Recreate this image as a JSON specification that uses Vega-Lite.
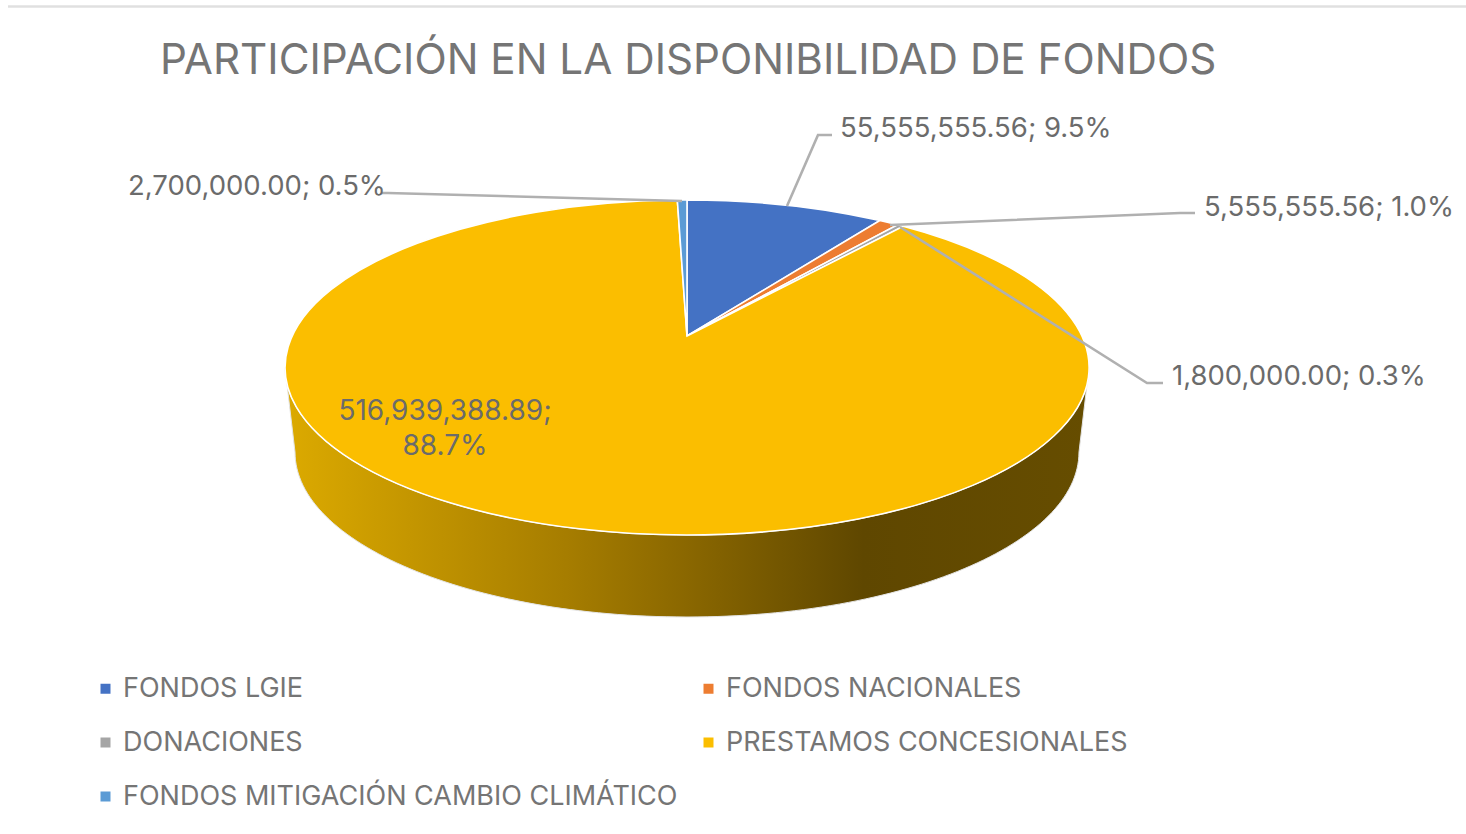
{
"$schema":"https://vega.github.io/schema/vega-lite/v6.json",
"width":1374,"height":672,
"autosize":{"type":"none"},
"padding":{"left":0,"top":0,"right":92,"bottom":162},
"background":"white",
"config":{"view":{"stroke":null},"font":"Inter"},
"title":{"text":"PARTICIPACIÓN EN LA DISPONIBILIDAD DE FONDOS","anchor":"start","dx":160,"dy":116,"offset":0,"baseline":"alphabetic","fontSize":42.2,"fontWeight":"normal","color":"#757575","font":"Inter"},
"data":{"values":[
{"orden":1,"fuente":"FONDOS LGIE","valor":55555555.56},
{"orden":2,"fuente":"FONDOS NACIONALES","valor":5555555.56},
{"orden":3,"fuente":"DONACIONES","valor":1800000.00},
{"orden":4,"fuente":"PRESTAMOS CONCESIONALES","valor":516939388.89},
{"orden":5,"fuente":"FONDOS MITIGACIÓN CAMBIO CLIMÁTICO","valor":2700000.00}
]},
"transform":[
{"stack":"valor","groupby":[],"sort":[{"field":"orden","order":"ascending"}],"offset":"normalize","as":["f0","f1"]},
{"calculate":"2*PI*datum.f0","as":"t0"},
{"calculate":"2*PI*datum.f1","as":"t1"},
{"calculate":"round(39500*sin(datum.t0)/(1+0.188*cos(datum.t0)))/100","as":"x0"},
{"calculate":"round(-16160*cos(datum.t0)/(1+0.188*cos(datum.t0)))/100","as":"y0"},
{"calculate":"round(39500*sin(datum.t1)/(1+0.188*cos(datum.t1)))/100","as":"x1"},
{"calculate":"round(-16160*cos(datum.t1)/(1+0.188*cos(datum.t1)))/100","as":"y1"},
{"calculate":"'M0,0L'+datum.x0+','+datum.y0+'A402 167.5 0 '+(datum.f1-datum.f0>0.5?1:0)+' 1 '+datum.x1+','+datum.y1+'Z'","as":"ruta"},
{"calculate":"format(datum.valor,',.2f')+'; '+format(datum.f1-datum.f0,'.1%')","as":"etiqueta"},
{"calculate":"format(datum.valor,',.2f')+';\\n'+format(datum.f1-datum.f0,'.1%')","as":"etiqueta2"}
],
"layer":[
{"transform":[{"filter":"datum.orden==4"}],
 "mark":{"type":"point","filled":true,"opacity":1,"size":4,"shape":"M-402,31.5A402 167.5 0 0 0 402,31.5L392,116A392 165 0 0 1 -392,116Z","stroke":"#e4e4e4","strokeWidth":1,
 "fill":{"gradient":"linear","x1":0,"y1":0,"x2":1,"y2":0,"stops":[{"offset":0,"color":"#dcaa00"},{"offset":0.35,"color":"#a67d00"},{"offset":0.5,"color":"#8a6700"},{"offset":0.72,"color":"#5f4700"},{"offset":1,"color":"#664d00"}]}},
 "encoding":{}},
{"mark":{"type":"point","filled":true,"opacity":1,"size":4,"stroke":"white","strokeWidth":1.6},
 "encoding":{
  "shape":{"field":"ruta","type":"nominal","scale":null,"legend":null},
  "fill":{"field":"fuente","type":"nominal",
   "scale":{"domain":["FONDOS LGIE","DONACIONES","FONDOS MITIGACIÓN CAMBIO CLIMÁTICO","FONDOS NACIONALES","PRESTAMOS CONCESIONALES"],"range":["#4472c4","#a5a5a5","#5b9bd5","#ed7d31","#fbbe00"]},
   "legend":{"title":null,"orient":"none","legendX":92,"legendY":675,"columns":2,"symbolType":"square","symbolSize":100,"symbolStrokeWidth":0,"labelFontSize":27,"labelColor":"#757575","labelFont":"Inter","labelOffset":4,"columnPadding":17,"rowPadding":26,"labelLimit":800}
  }}},
{"transform":[{"filter":"datum.orden==1"}],"mark":{"type":"point","filled":false,"opacity":1,"size":4,"stroke":"#b0b0b0","strokeWidth":2.6,"shape":"M100,-130L131,-201L145,-201"},"encoding":{}},
{"transform":[{"filter":"datum.orden==2"}],"mark":{"type":"point","filled":false,"opacity":1,"size":4,"stroke":"#b0b0b0","strokeWidth":2.6,"shape":"M203,-111L493,-123L508,-123"},"encoding":{}},
{"transform":[{"filter":"datum.orden==3"}],"mark":{"type":"point","filled":false,"opacity":1,"size":4,"stroke":"#b0b0b0","strokeWidth":2.6,"shape":"M213,-109L460,47L476,47"},"encoding":{}},
{"transform":[{"filter":"datum.orden==5"}],"mark":{"type":"point","filled":false,"opacity":1,"size":4,"stroke":"#b0b0b0","strokeWidth":2.6,"shape":"M-5,-135L-299,-143L-305,-143"},"encoding":{}},
{"transform":[{"filter":"datum.orden==1"}],"mark":{"type":"point","filled":false,"opacity":1,"size":4,"stroke":"#e0e0e0","strokeWidth":2.5,"shape":"M-679,-329.5L779,-329.5"},"encoding":{}},
{"transform":[{"filter":"datum.orden==1"}],"mark":{"type":"text","align":"left","baseline":"middle","dx":153,"dy":-207,"fontSize":27.5,"color":"#6b6b6b"},"encoding":{"text":{"field":"etiqueta"}}},
{"transform":[{"filter":"datum.orden==2"}],"mark":{"type":"text","align":"left","baseline":"middle","dx":517,"dy":-128,"fontSize":27.5,"color":"#6b6b6b"},"encoding":{"text":{"field":"etiqueta"}}},
{"transform":[{"filter":"datum.orden==3"}],"mark":{"type":"text","align":"left","baseline":"middle","dx":485,"dy":41,"fontSize":27.5,"color":"#6b6b6b"},"encoding":{"text":{"field":"etiqueta"}}},
{"transform":[{"filter":"datum.orden==5"}],"mark":{"type":"text","align":"left","baseline":"middle","dx":-559,"dy":-149,"fontSize":27.5,"color":"#6b6b6b"},"encoding":{"text":{"field":"etiqueta"}}},
{"transform":[{"filter":"datum.orden==4"}],"mark":{"type":"text","align":"center","baseline":"middle","dx":-242,"dy":76,"fontSize":28,"lineHeight":35,"lineBreak":"\n","color":"#6b6b6b"},"encoding":{"text":{"field":"etiqueta2"}}}
]
}
